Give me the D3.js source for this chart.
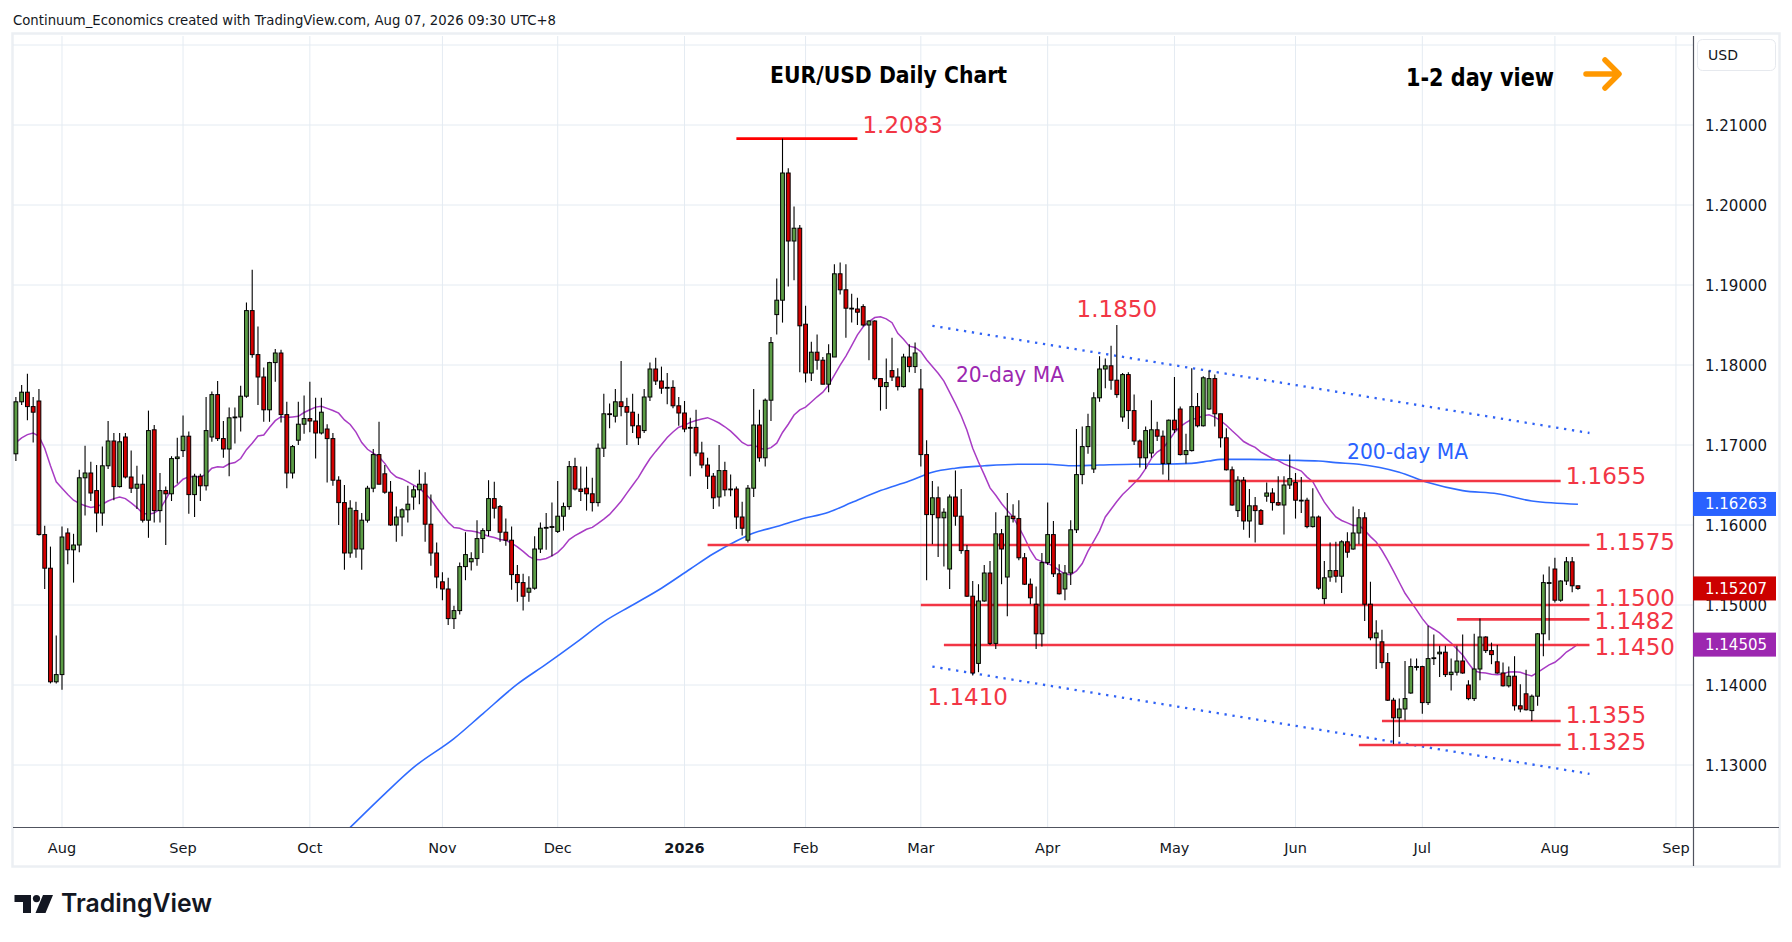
<!DOCTYPE html>
<html>
<head>
<meta charset="utf-8">
<script src="https://cdn.jsdelivr.net/npm/d3@7"></script>
<style>
body { margin: 0; background: #ffffff; }
svg { display: block; font-family: "DejaVu Sans", sans-serif; }
</style>
</head>
<body>
<svg id="chart"></svg>
<script>
// calendar of daily bars (weekdays, no Christmas / New Year bar)
var firstDay = "2025-07-22", calendarEnd = "2026-09-20";
var holidays = ["2025-12-25", "2026-01-01"];

var opens = [
1.1689, 1.1754, 1.1766, 1.1748, 1.1755, 1.1588, 1.1546, 1.1404,
1.1413, 1.1590, 1.1569, 1.1575, 1.1659, 1.1665, 1.1643, 1.1615, 1.1674, 1.1705,
1.1648, 1.1710, 1.1660, 1.1646, 1.1651, 1.1606, 1.1719, 1.1618, 1.1643, 1.1639,
1.1683, 1.1693, 1.1711, 1.1638, 1.1661, 1.1649, 1.1710, 1.1763, 1.1708, 1.1695,
1.1734, 1.1735, 1.1761, 1.1868, 1.1813, 1.1785, 1.1744, 1.1803, 1.1815, 1.1738,
1.1665, 1.1706, 1.1726, 1.1733, 1.1730, 1.1715, 1.1720, 1.1708, 1.1656, 1.1628,
1.1565, 1.1618, 1.1570, 1.1606, 1.1646, 1.1688, 1.1664, 1.1641, 1.1600, 1.1610,
1.1619, 1.1635, 1.1644, 1.1651, 1.1601, 1.1565, 1.1529, 1.1520, 1.1483, 1.1493,
1.1548, 1.1554, 1.1558, 1.1583, 1.1593, 1.1633, 1.1623, 1.1591, 1.1581, 1.1538,
1.1528, 1.1516, 1.1521, 1.1570, 1.1596, 1.1597, 1.1592, 1.1611, 1.1623, 1.1673,
1.1645, 1.1646, 1.1639, 1.1628, 1.1696, 1.1739, 1.1736, 1.1754, 1.1748, 1.1741,
1.1724, 1.1718, 1.1760, 1.1795, 1.1780, 1.1772, 1.1772, 1.1749, 1.1740, 1.1722,
1.1722, 1.1690, 1.1675, 1.1661, 1.1635, 1.1668, 1.1644, 1.1645, 1.1610, 1.1581,
1.1646, 1.1725, 1.1684, 1.1756, 1.1863, 1.1881, 1.2040, 1.1955, 1.1971, 1.1851,
1.1790, 1.1816, 1.1806, 1.1776, 1.1810, 1.1914, 1.1894, 1.1871, 1.1870, 1.1873,
1.1850, 1.1855, 1.1783, 1.1773, 1.1793, 1.1785, 1.1773, 1.1810, 1.1798, 1.1770,
1.1688, 1.1613, 1.1634, 1.1609, 1.1545, 1.1635, 1.1611, 1.1568, 1.1511, 1.1427,
1.1505, 1.1540, 1.1452, 1.1589, 1.1535, 1.1611, 1.1608, 1.1559, 1.1526, 1.1501,
1.1464, 1.1553, 1.1588, 1.1539, 1.1520, 1.1540, 1.1594, 1.1663, 1.1698, 1.1670,
1.1759, 1.1795, 1.1799, 1.1781, 1.1735, 1.1788, 1.1743, 1.1705, 1.1684, 1.1690,
1.1719, 1.1711, 1.1677, 1.1731, 1.1745, 1.1688, 1.1693, 1.1748, 1.1724, 1.1745,
1.1783, 1.1739, 1.1709, 1.1669, 1.1618, 1.1656, 1.1605, 1.1624, 1.1618, 1.1636,
1.1640, 1.1628, 1.1625, 1.1650, 1.1653, 1.1631, 1.1631, 1.1598, 1.1610, 1.1508,
1.1535, 1.1543, 1.1536, 1.1579, 1.1570, 1.1590, 1.1609, 1.1501, 1.1459, 1.1454,
1.1428, 1.1381, 1.1359, 1.1370, 1.1390, 1.1422, 1.1423, 1.1378, 1.1433, 1.1439,
1.1441, 1.1413, 1.1416, 1.1430, 1.1400, 1.1383, 1.1420, 1.1460, 1.1443, 1.1429,
1.1415, 1.1399, 1.1411, 1.1374, 1.1389, 1.1368, 1.1386, 1.1464, 1.1527, 1.1545,
1.1506, 1.1530, 1.1554, 1.1524
];

var highs = [
1.1760, 1.1775, 1.1789, 1.1760, 1.1770, 1.1599, 1.1573, 1.1462,
1.1598, 1.1596, 1.1589, 1.1669, 1.1699, 1.1679, 1.1675, 1.1698, 1.1730, 1.1715,
1.1715, 1.1715, 1.1693, 1.1674, 1.1663, 1.1743, 1.1725, 1.1665, 1.1648, 1.1686,
1.1709, 1.1737, 1.1717, 1.1664, 1.1664, 1.1760, 1.1767, 1.1780, 1.1730, 1.1747,
1.1747, 1.1774, 1.1878, 1.1919, 1.1848, 1.1797, 1.1804, 1.1820, 1.1819, 1.1754,
1.1700, 1.1754, 1.1762, 1.1779, 1.1759, 1.1759, 1.1726, 1.1715, 1.1661, 1.1650,
1.1631, 1.1629, 1.1615, 1.1649, 1.1695, 1.1729, 1.1675, 1.1655, 1.1623, 1.1621,
1.1649, 1.1649, 1.1669, 1.1666, 1.1638, 1.1578, 1.1541, 1.1534, 1.1499, 1.1553,
1.1591, 1.1566, 1.1606, 1.1596, 1.1656, 1.1654, 1.1625, 1.1608, 1.1598, 1.1550,
1.1539, 1.1536, 1.1586, 1.1603, 1.1615, 1.1628, 1.1655, 1.1628, 1.1680, 1.1684,
1.1673, 1.1673, 1.1659, 1.1702, 1.1764, 1.1752, 1.1770, 1.1805, 1.1759, 1.1764,
1.1739, 1.1770, 1.1803, 1.1809, 1.1798, 1.1790, 1.1781, 1.1760, 1.1755, 1.1734,
1.1744, 1.1704, 1.1684, 1.1665, 1.1700, 1.1679, 1.1663, 1.1648, 1.1629, 1.1650,
1.1770, 1.1744, 1.1758, 1.1835, 1.1908, 1.2083, 1.2046, 1.1998, 1.1975, 1.1874,
1.1829, 1.1838, 1.1810, 1.1826, 1.1926, 1.1928, 1.1926, 1.1889, 1.1884, 1.1876,
1.1856, 1.1856, 1.1783, 1.1808, 1.1834, 1.1796, 1.1814, 1.1826, 1.1828, 1.1795,
1.1706, 1.1655, 1.1648, 1.1621, 1.1638, 1.1668, 1.1645, 1.1575, 1.1530, 1.1526,
1.1550, 1.1555, 1.1616, 1.1595, 1.1640, 1.1626, 1.1631, 1.1565, 1.1533, 1.1523,
1.1565, 1.1628, 1.1605, 1.1551, 1.1550, 1.1606, 1.1720, 1.1723, 1.1739, 1.1766,
1.1811, 1.1808, 1.1824, 1.1850, 1.1790, 1.1791, 1.1763, 1.1707, 1.1723, 1.1756,
1.1729, 1.1718, 1.1732, 1.1785, 1.1748, 1.1714, 1.1796, 1.1765, 1.1786, 1.1793,
1.1788, 1.1739, 1.1721, 1.1673, 1.1661, 1.1660, 1.1645, 1.1635, 1.1620, 1.1653,
1.1646, 1.1661, 1.1661, 1.1688, 1.1665, 1.1660, 1.1634, 1.1646, 1.1612, 1.1555,
1.1578, 1.1579, 1.1581, 1.1591, 1.1623, 1.1620, 1.1616, 1.1529, 1.1481, 1.1469,
1.1440, 1.1384, 1.1383, 1.1430, 1.1433, 1.1433, 1.1424, 1.1474, 1.1463, 1.1449,
1.1449, 1.1433, 1.1449, 1.1463, 1.1406, 1.1464, 1.1483, 1.1461, 1.1453, 1.1450,
1.1428, 1.1423, 1.1436, 1.1401, 1.1419, 1.1388, 1.1465, 1.1538, 1.1548, 1.1559,
1.1531, 1.1560, 1.1560, 1.1524
];

var lows = [
1.1680, 1.1750, 1.1731, 1.1703, 1.1587, 1.1520, 1.1402, 1.1402,
1.1394, 1.1551, 1.1528, 1.1566, 1.1612, 1.1630, 1.1591, 1.1599, 1.1670, 1.1631,
1.1647, 1.1658, 1.1640, 1.1620, 1.1603, 1.1584, 1.1603, 1.1603, 1.1575, 1.1630,
1.1652, 1.1685, 1.1614, 1.1610, 1.1630, 1.1643, 1.1704, 1.1705, 1.1684, 1.1661,
1.1702, 1.1717, 1.1759, 1.1809, 1.1750, 1.1729, 1.1729, 1.1779, 1.1728, 1.1646,
1.1658, 1.1700, 1.1714, 1.1716, 1.1683, 1.1713, 1.1653, 1.1649, 1.1600, 1.1544,
1.1559, 1.1559, 1.1544, 1.1603, 1.1641, 1.1651, 1.1639, 1.1599, 1.1579, 1.1586,
1.1603, 1.1619, 1.1626, 1.1579, 1.1549, 1.1521, 1.1506, 1.1475, 1.1470, 1.1488,
1.1531, 1.1543, 1.1549, 1.1565, 1.1586, 1.1608, 1.1579, 1.1574, 1.1519, 1.1504,
1.1493, 1.1504, 1.1519, 1.1565, 1.1569, 1.1561, 1.1590, 1.1593, 1.1619, 1.1643,
1.1630, 1.1618, 1.1617, 1.1623, 1.1685, 1.1721, 1.1728, 1.1736, 1.1700, 1.1715,
1.1700, 1.1715, 1.1755, 1.1775, 1.1764, 1.1751, 1.1746, 1.1724, 1.1716, 1.1661,
1.1686, 1.1671, 1.1645, 1.1620, 1.1623, 1.1636, 1.1636, 1.1595, 1.1587, 1.1578,
1.1635, 1.1679, 1.1673, 1.1730, 1.1838, 1.1853, 1.1898, 1.1906, 1.1791, 1.1778,
1.1780, 1.1794, 1.1776, 1.1766, 1.1810, 1.1888, 1.1834, 1.1853, 1.1850, 1.1848,
1.1806, 1.1781, 1.1743, 1.1745, 1.1780, 1.1768, 1.1772, 1.1791, 1.1790, 1.1673,
1.1531, 1.1576, 1.1560, 1.1548, 1.1520, 1.1599, 1.1564, 1.1510, 1.1412, 1.1416,
1.1504, 1.1450, 1.1445, 1.1526, 1.1486, 1.1603, 1.1556, 1.1525, 1.1501, 1.1445,
1.1448, 1.1550, 1.1535, 1.1513, 1.1506, 1.1525, 1.1590, 1.1651, 1.1689, 1.1665,
1.1754, 1.1771, 1.1769, 1.1759, 1.1729, 1.1720, 1.1700, 1.1672, 1.1670, 1.1684,
1.1705, 1.1663, 1.1656, 1.1715, 1.1687, 1.1677, 1.1692, 1.1722, 1.1723, 1.1744,
1.1723, 1.1697, 1.1668, 1.1624, 1.1610, 1.1594, 1.1584, 1.1578, 1.1600, 1.1629,
1.1618, 1.1624, 1.1588, 1.1645, 1.1608, 1.1615, 1.1596, 1.1597, 1.1519, 1.1501,
1.1529, 1.1528, 1.1515, 1.1559, 1.1569, 1.1576, 1.1480, 1.1456, 1.1420, 1.1421,
1.1380, 1.1326, 1.1335, 1.1356, 1.1389, 1.1418, 1.1364, 1.1375, 1.1425, 1.1410,
1.1410, 1.1393, 1.1412, 1.1414, 1.1381, 1.1380, 1.1406, 1.1440, 1.1426, 1.1414,
1.1398, 1.1397, 1.1368, 1.1366, 1.1368, 1.1355, 1.1374, 1.1436, 1.1456, 1.1503,
1.1504, 1.1525, 1.1516, 1.1519
];

var closes = [
1.1754, 1.1766, 1.1748, 1.1741, 1.1588, 1.1546, 1.1404, 1.1413,
1.1585, 1.1569, 1.1575, 1.1659, 1.1665, 1.1640, 1.1615, 1.1674, 1.1705, 1.1648,
1.1704, 1.1660, 1.1646, 1.1651, 1.1606, 1.1718, 1.1618, 1.1643, 1.1639, 1.1683,
1.1685, 1.1711, 1.1638, 1.1661, 1.1649, 1.1718, 1.1763, 1.1708, 1.1695, 1.1734,
1.1735, 1.1761, 1.1868, 1.1813, 1.1785, 1.1744, 1.1803, 1.1815, 1.1738, 1.1665,
1.1698, 1.1726, 1.1733, 1.1730, 1.1715, 1.1741, 1.1708, 1.1656, 1.1628, 1.1565,
1.1621, 1.1570, 1.1606, 1.1646, 1.1688, 1.1651, 1.1641, 1.1600, 1.1610, 1.1619,
1.1626, 1.1644, 1.1651, 1.1601, 1.1565, 1.1535, 1.1520, 1.1483, 1.1493, 1.1548,
1.1563, 1.1558, 1.1583, 1.1593, 1.1633, 1.1621, 1.1591, 1.1581, 1.1538, 1.1528,
1.1511, 1.1521, 1.1570, 1.1596, 1.1597, 1.1598, 1.1611, 1.1623, 1.1673, 1.1645,
1.1642, 1.1639, 1.1628, 1.1696, 1.1739, 1.1738, 1.1754, 1.1748, 1.1741, 1.1724,
1.1709, 1.1760, 1.1795, 1.1780, 1.1771, 1.1772, 1.1749, 1.1740, 1.1720, 1.1721,
1.1690, 1.1675, 1.1661, 1.1634, 1.1668, 1.1644, 1.1645, 1.1610, 1.1596, 1.1646,
1.1725, 1.1684, 1.1756, 1.1828, 1.1881, 1.2040, 1.1955, 1.1971, 1.1849, 1.1790,
1.1816, 1.1806, 1.1776, 1.1814, 1.1914, 1.1894, 1.1871, 1.1871, 1.1866, 1.1850,
1.1855, 1.1783, 1.1773, 1.1778, 1.1785, 1.1773, 1.1810, 1.1798, 1.1815, 1.1688,
1.1613, 1.1634, 1.1609, 1.1616, 1.1635, 1.1611, 1.1568, 1.1511, 1.1415, 1.1505,
1.1540, 1.1452, 1.1589, 1.1570, 1.1611, 1.1608, 1.1559, 1.1526, 1.1509, 1.1464,
1.1553, 1.1588, 1.1539, 1.1514, 1.1540, 1.1594, 1.1663, 1.1698, 1.1723, 1.1759,
1.1795, 1.1799, 1.1781, 1.1763, 1.1788, 1.1743, 1.1705, 1.1684, 1.1718, 1.1719,
1.1711, 1.1677, 1.1731, 1.1719, 1.1688, 1.1693, 1.1748, 1.1724, 1.1784, 1.1783,
1.1739, 1.1709, 1.1669, 1.1625, 1.1656, 1.1605, 1.1624, 1.1618, 1.1601, 1.1640,
1.1628, 1.1625, 1.1650, 1.1658, 1.1631, 1.1631, 1.1598, 1.1610, 1.1521, 1.1534,
1.1543, 1.1536, 1.1579, 1.1566, 1.1590, 1.1609, 1.1501, 1.1459, 1.1465, 1.1428,
1.1381, 1.1359, 1.1370, 1.1383, 1.1423, 1.1423, 1.1378, 1.1433, 1.1434, 1.1441,
1.1413, 1.1416, 1.1430, 1.1415, 1.1383, 1.1420, 1.1460, 1.1443, 1.1438, 1.1415,
1.1399, 1.1411, 1.1374, 1.1370, 1.1369, 1.1386, 1.1464, 1.1528, 1.1528, 1.1506,
1.1530, 1.1554, 1.1524, 1.15207
];

// 20-day MA as shown for the first bars, before 20 closes are on the chart
var ma20Lead = [1.1703, 1.1709, 1.1713, 1.1715, 1.1711, 1.1696, 1.1674, 1.1654, 1.1646, 1.1638,
                1.1631, 1.1627, 1.1624, 1.1622, 1.1623, 1.1626, 1.1630, 1.1633, 1.1635];

var ma200Dates = ["2025-10-10", "2025-10-20", "2025-10-27", "2025-11-05", "2025-11-12", "2025-11-20",
    "2025-11-27", "2025-12-04", "2025-12-11", "2025-12-18", "2025-12-26", "2026-01-05", "2026-01-09",
    "2026-01-15", "2026-01-20", "2026-01-26", "2026-01-30", "2026-02-06", "2026-02-12", "2026-02-19",
    "2026-02-26", "2026-03-04", "2026-03-10", "2026-03-17", "2026-03-25", "2026-04-01", "2026-04-07",
    "2026-04-14", "2026-04-22", "2026-04-29", "2026-05-06", "2026-05-11", "2026-05-13", "2026-05-20",
    "2026-05-29", "2026-06-05", "2026-06-10", "2026-06-16", "2026-06-25", "2026-07-02", "2026-07-10",
    "2026-07-20", "2026-07-28", "2026-08-07"];
var ma200Values = [1.1222, 1.1264, 1.1297, 1.1333, 1.1364, 1.1401,
    1.1426, 1.1452, 1.1479, 1.1500, 1.1521, 1.1545, 1.1564,
    1.1580, 1.1590, 1.1598, 1.1607, 1.1616, 1.1628, 1.1643,
    1.1655, 1.1666, 1.1671, 1.1674, 1.1676, 1.1676, 1.1674,
    1.1675, 1.1676, 1.1676, 1.1677, 1.1680, 1.1682, 1.1682,
    1.1681, 1.1680, 1.1678, 1.1676, 1.1666, 1.1653, 1.1643,
    1.1639, 1.1630, 1.1626];

var levelValues = [1.2083, 1.1655, 1.1575, 1.1500, 1.1482, 1.1450, 1.1355, 1.1325];
var levelStart = ["2026-01-15", "2026-04-21", "2026-01-08", "2026-03-02", "2026-07-09", "2026-03-06", "2026-06-22", "2026-06-16"];
var levelEnd = ["2026-02-13", "2026-08-04", "2026-08-11", "2026-08-11", "2026-08-11", "2026-08-11", "2026-08-04", "2026-08-04"];

var pointLabelDates = ["2026-04-17", "2026-03-13"];
var pointLabelValues = [1.1850, 1.1410];

var trendDates = ["2026-03-04", "2026-08-11"];
var upperTrend = [1.1849, 1.1715];
var lowerTrend = [1.1423, 1.1289];

var tagValues = [1.16263, 1.15207, 1.14505];

var priceTicks = [1.13, 1.14, 1.15, 1.16, 1.17, 1.18, 1.19, 1.20, 1.21];
var monthTicks = ["2025-08-01", "2025-09-01", "2025-10-01", "2025-11-01", "2025-12-01", "2026-01-01",
    "2026-02-01", "2026-03-01", "2026-04-01", "2026-05-01", "2026-06-01", "2026-07-01", "2026-08-01", "2026-09-01"];
var monthLabels = ["Aug", "Sep", "Oct", "Nov", "Dec", "2026", "Feb", "Mar", "Apr", "May", "Jun", "Jul", "Aug", "Sep"];

var svgWidth = 1792, svgHeight = 942;
var plot = { left: 13, right: 1693, top: 36, bottom: 827 };

var fmt = d3.timeFormat("%Y-%m-%d"), parse = d3.timeParse("%Y-%m-%d");
var tradingDays = d3.timeDay.range(parse(firstDay), parse(calendarEnd)).filter(function(d) {
    return d.getDay() !== 0 && d.getDay() !== 6 && holidays.indexOf(fmt(d)) < 0;
});
var dayIndex = new Map(tradingDays.map(function(d, i) { return [fmt(d), i]; }));
function firstBarOn(str) {
    return d3.bisector(function(d) { return d; }).left(tradingDays, parse(str));
}

var x = d3.scaleLinear().domain([-0.5, 290.96]).range([plot.left, plot.right]);
var y = d3.scaleLinear().domain([1.12225, 1.221375]).range([plot.bottom, 34]);
function xd(str) { return x(dayIndex.get(str)); }

var svg = d3.select("#chart")
    .attr("width", svgWidth)
    .attr("height", svgHeight);

svg.append("rect").attr("width", svgWidth).attr("height", svgHeight).attr("fill", "#ffffff");

svg.append("text")
    .attr("x", 13).attr("y", 25)
    .attr("font-size", 14.5)
    .attr("fill", "#131722")
    .attr("textLength", 543).attr("lengthAdjust", "spacingAndGlyphs")
    .text("Continuum_Economics created with TradingView.com, Aug 07, 2026 09:30 UTC+8");

svg.append("rect")
    .attr("x", 12.5).attr("y", 33.5)
    .attr("width", 1767).attr("height", 833)
    .attr("fill", "none")
    .attr("stroke", "#eceff3")
    .attr("stroke-width", 2.5);

svg.append("clipPath").attr("id", "plotClip")
    .append("rect")
    .attr("x", plot.left).attr("y", plot.top)
    .attr("width", plot.right - plot.left).attr("height", plot.bottom - plot.top);

var grid = svg.append("g").attr("stroke", "#e4ebf2").attr("stroke-width", 1);

var monthIdx = monthTicks.map(firstBarOn);
grid.selectAll(".vgrid")
    .data(monthIdx)
    .enter()
    .append("line")
    .attr("x1", function(d) { return x(d); })
    .attr("x2", function(d) { return x(d); })
    .attr("y1", plot.top)
    .attr("y2", plot.bottom);

grid.selectAll(".hgrid")
    .data(priceTicks.concat([1.22]))
    .enter()
    .append("line")
    .attr("x1", plot.left)
    .attr("x2", plot.right)
    .attr("y1", function(d) { return y(d); })
    .attr("y2", function(d) { return y(d); });

var g = svg.append("g").attr("clip-path", "url(#plotClip)");

// 200-day MA
var maLine = d3.line()
    .x(function(d) { return x(d[0]); })
    .y(function(d) { return y(d[1]); });

g.append("path")
    .datum(ma200Dates.map(function(d, i) { return [dayIndex.get(d), ma200Values[i]]; }))
    .attr("fill", "none")
    .attr("stroke", "#2f6bff")
    .attr("stroke-width", 1.6)
    .attr("d", maLine.curve(d3.curveMonotoneX));

// 20-day MA from the closes
var ma20 = closes.map(function(c, k) {
    if (k < 19) return [k, ma20Lead[k]];
    return [k, d3.mean(closes.slice(k - 19, k + 1))];
});
g.append("path")
    .datum(ma20)
    .attr("fill", "none")
    .attr("stroke", "#a83cc4")
    .attr("stroke-width", 1.5)
    .attr("d", d3.line().x(function(d) { return x(d[0]); }).y(function(d) { return y(d[1]); }));

// trend channel
[upperTrend, lowerTrend].forEach(function(t) {
    g.append("line")
        .attr("x1", xd(trendDates[0])).attr("y1", y(t[0]))
        .attr("x2", xd(trendDates[1])).attr("y2", y(t[1]))
        .attr("stroke", "#2f62f5")
        .attr("stroke-width", 2.3)
        .attr("stroke-dasharray", "2.3,5.7");
});

// level lines
var levelColor = function(i) { return i === 0 ? "#ff0000" : "#f23645"; };
g.selectAll(".level")
    .data(levelValues)
    .enter()
    .append("line")
    .attr("x1", function(d, i) { return xd(levelStart[i]); })
    .attr("x2", function(d, i) { return xd(levelEnd[i]); })
    .attr("y1", function(d) { return y(d); })
    .attr("y2", function(d) { return y(d); })
    .attr("stroke", function(d, i) { return levelColor(i); })
    .attr("stroke-width", 2.6);

// candles
var candles = opens.map(function(o, k) {
    return { k: k, o: o, h: highs[k], l: lows[k], c: closes[k] };
});
var bodyW = 3.8;

g.selectAll(".wick")
    .data(candles)
    .enter()
    .append("line")
    .attr("x1", function(d) { return x(d.k); })
    .attr("x2", function(d) { return x(d.k); })
    .attr("y1", function(d) { return y(d.h); })
    .attr("y2", function(d) { return y(d.l); })
    .attr("stroke", "#000000")
    .attr("stroke-width", 1.1);

g.selectAll(".body")
    .data(candles)
    .enter()
    .append("rect")
    .attr("x", function(d) { return x(d.k) - bodyW / 2; })
    .attr("width", bodyW)
    .attr("y", function(d) { return y(Math.max(d.o, d.c)); })
    .attr("height", function(d) { return Math.max(0.8, Math.abs(y(d.o) - y(d.c))); })
    .attr("fill", function(d) { return d.c >= d.o ? "#5b9c45" : "#d30000"; })
    .attr("stroke", "#000000")
    .attr("stroke-width", 1);

// labels on the chart
var labelFont = "\"DejaVu Sans\", sans-serif";
var levelLabelDy = [-13.6, -5.5, -3.5, -7.3, 1.3, 1.7, -6, -3];
svg.selectAll(".levelLabel")
    .data(levelValues)
    .enter()
    .append("text")
    .attr("x", function(d, i) { return xd(levelEnd[i]) + 5; })
    .attr("y", function(d, i) { return y(d) + levelLabelDy[i] + 8.3; })
    .attr("font-size", 23)
    .attr("fill", "#f23645")
    .text(function(d) { return d.toFixed(4); });

var pointLabelDy = [-16, 20];
var pointLabelDx = [0, -5];
svg.selectAll(".pointLabel")
    .data(pointLabelValues)
    .enter()
    .append("text")
    .attr("x", function(d, i) { return xd(pointLabelDates[i]) + pointLabelDx[i]; })
    .attr("y", function(d, i) { return y(d) + pointLabelDy[i] + 8.3; })
    .attr("text-anchor", "middle")
    .attr("font-size", 23)
    .attr("fill", "#f23645")
    .text(function(d) { return d.toFixed(4); });

svg.append("text")
    .attr("x", 956).attr("y", 382)
    .attr("font-size", 21)
    .attr("fill", "#9c27b0")
    .attr("textLength", 108).attr("lengthAdjust", "spacingAndGlyphs")
    .text("20-day MA");

svg.append("text")
    .attr("x", 1347).attr("y", 459)
    .attr("font-size", 21)
    .attr("fill", "#2962ff")
    .attr("textLength", 121).attr("lengthAdjust", "spacingAndGlyphs")
    .text("200-day MA");

svg.append("text")
    .attr("x", 770).attr("y", 82.5)
    .attr("font-size", 23)
    .attr("font-weight", "bold")
    .attr("fill", "#000000")
    .attr("textLength", 237).attr("lengthAdjust", "spacingAndGlyphs")
    .text("EUR/USD Daily Chart");

svg.append("text")
    .attr("x", 1406).attr("y", 86)
    .attr("font-size", 25)
    .attr("font-weight", "bold")
    .attr("fill", "#000000")
    .attr("textLength", 148).attr("lengthAdjust", "spacingAndGlyphs")
    .text("1-2 day view");

svg.append("path")
    .attr("d", "M1586,74 H1618 M1605,60 L1619,74 L1605,88")
    .attr("fill", "none")
    .attr("stroke", "#ff9800")
    .attr("stroke-width", 5.5)
    .attr("stroke-linecap", "round")
    .attr("stroke-linejoin", "round");

// axes
svg.append("line")
    .attr("x1", plot.left).attr("x2", 1779)
    .attr("y1", plot.bottom + 0.5).attr("y2", plot.bottom + 0.5)
    .attr("stroke", "#50535e").attr("stroke-width", 1.2);
svg.append("line")
    .attr("x1", plot.right + 0.5).attr("x2", plot.right + 0.5)
    .attr("y1", plot.top).attr("y2", 866)
    .attr("stroke", "#50535e").attr("stroke-width", 1.2);

svg.selectAll(".monthLabel")
    .data(monthLabels)
    .enter()
    .append("text")
    .attr("x", function(d, i) { return x(monthIdx[i]); })
    .attr("y", 852.5)
    .attr("text-anchor", "middle")
    .attr("font-size", 14.5)
    .attr("font-weight", function(d) { return d === "2026" ? "bold" : "normal"; })
    .attr("fill", "#131722")
    .text(function(d) { return d; });

svg.selectAll(".priceLabel")
    .data(priceTicks)
    .enter()
    .append("text")
    .attr("x", 1705)
    .attr("y", function(d) { return y(d) + 5.5; })
    .attr("font-size", 15)
    .attr("fill", "#131722")
    .text(function(d) { return d.toFixed(5); });

svg.append("rect")
    .attr("x", 1697.5).attr("y", 39.5)
    .attr("width", 78).attr("height", 31)
    .attr("rx", 5)
    .attr("fill", "#ffffff")
    .attr("stroke", "#e6e9ee");
svg.append("text")
    .attr("x", 1708).attr("y", 60)
    .attr("font-size", 14)
    .attr("fill", "#131722")
    .text("USD");

var tagColors = ["#2962ff", "#cc0000", "#9c27b0"];
var tags = svg.selectAll(".tag")
    .data(tagValues)
    .enter()
    .append("g");
tags.append("rect")
    .attr("x", plot.right)
    .attr("y", function(d) { return y(d) - 12; })
    .attr("width", 83)
    .attr("height", 24)
    .attr("fill", function(d, i) { return tagColors[i]; });
tags.append("text")
    .attr("x", 1705)
    .attr("y", function(d) { return y(d) + 5.5; })
    .attr("font-size", 15)
    .attr("fill", "#ffffff")
    .text(function(d) { return d.toFixed(5); });

// TradingView mark
var logo = svg.append("g").attr("fill", "#131722");
logo.append("path").attr("d", "M14.5,895 H31 V913 H23 V902 H14.5 Z");
logo.append("circle").attr("cx", 36.5).attr("cy", 898.6).attr("r", 3.6);
logo.append("path").attr("d", "M43,895 H53 L45.5,913 H35.5 Z");
svg.append("text")
    .attr("x", 61).attr("y", 911.5)
    .attr("font-family", "Inter, sans-serif")
    .attr("font-size", 25)
    .attr("font-weight", 600)
    .attr("fill", "#131722")
    .attr("textLength", 151).attr("lengthAdjust", "spacingAndGlyphs")
    .text("TradingView");
</script>
</body>
</html>
